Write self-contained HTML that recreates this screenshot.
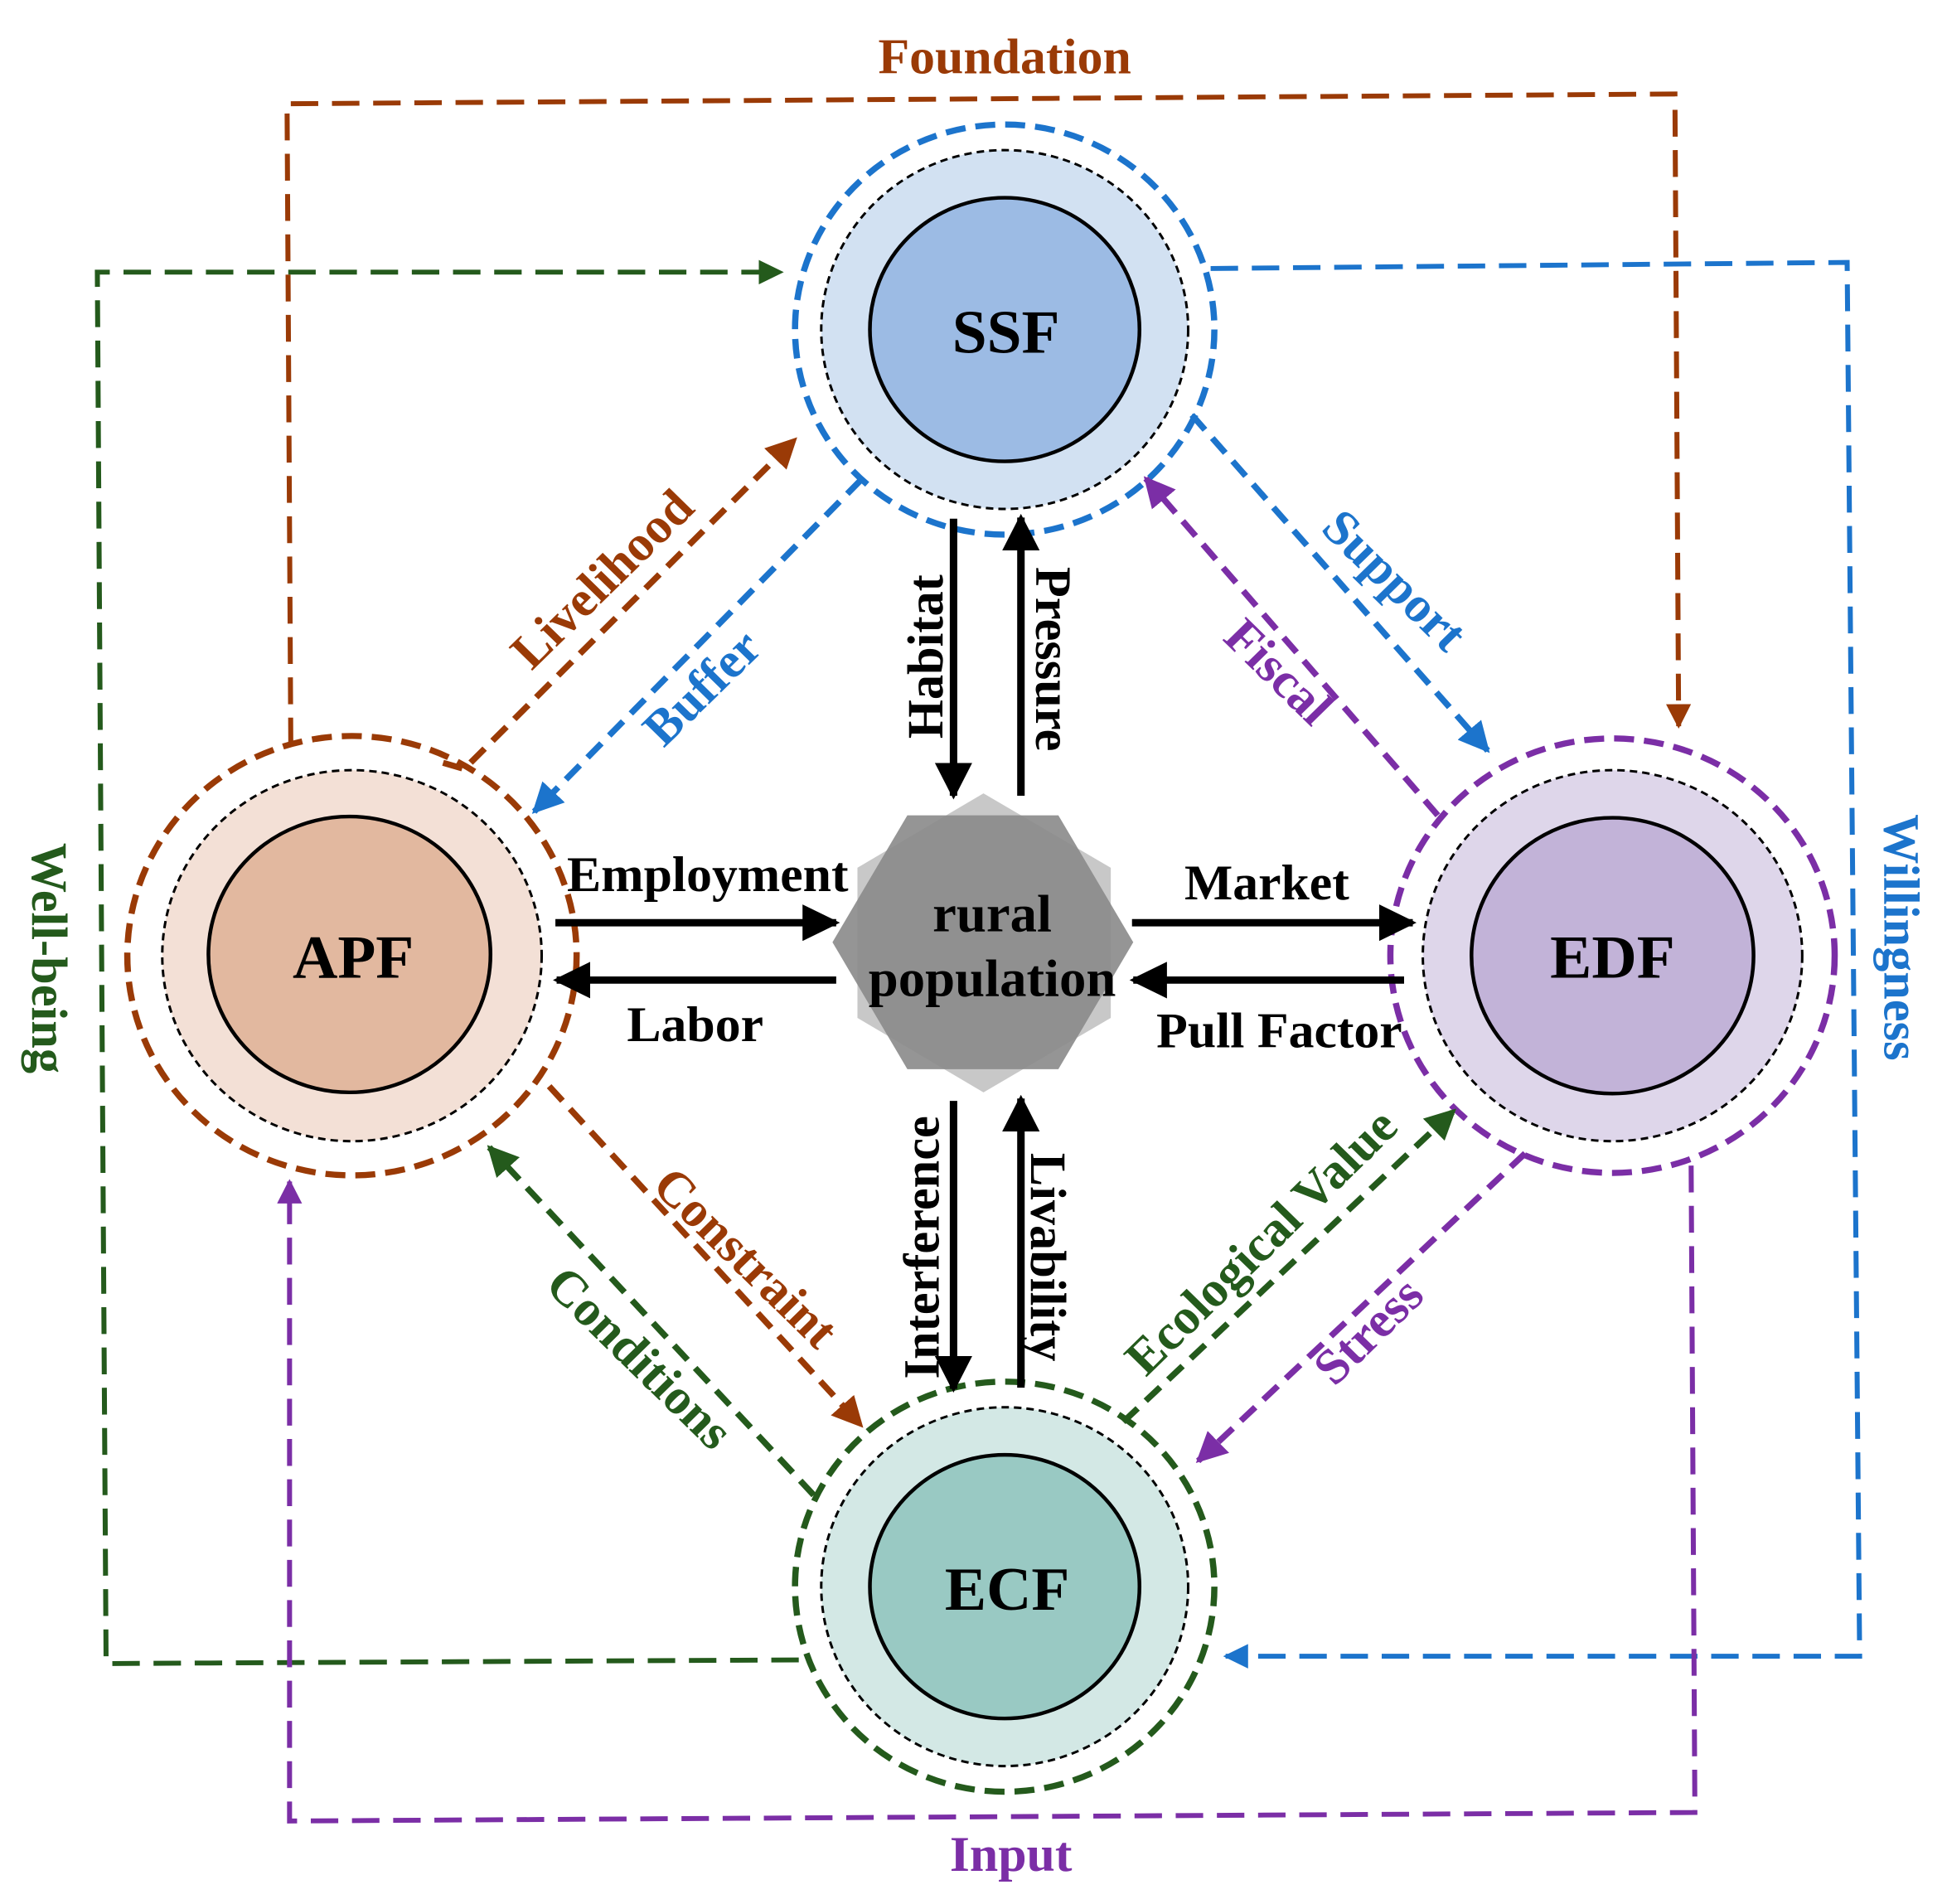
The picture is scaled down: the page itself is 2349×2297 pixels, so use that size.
<!DOCTYPE html>
<html><head><meta charset="utf-8"><style>
html,body{margin:0;padding:0;background:#fff;}
svg{display:block;}
text{font-family:"Liberation Serif",serif;font-weight:bold;}
</style></head><body>
<svg width="2349" height="2297" viewBox="0 0 1560 1560" preserveAspectRatio="none" xmlns="http://www.w3.org/2000/svg">
<defs>
<marker id="mk" viewBox="0 0 10 10" refX="9" refY="5" markerWidth="5" markerHeight="5" orient="auto" markerUnits="strokeWidth"><path d="M0,0 L10,5 L0,10 z" fill="#000"/></marker>
<marker id="mbr" viewBox="0 0 10 10" refX="9" refY="5" markerWidth="5" markerHeight="5" orient="auto" markerUnits="strokeWidth"><path d="M0,0 L10,5 L0,10 z" fill="#9a3a06"/></marker>
<marker id="mbl" viewBox="0 0 10 10" refX="9" refY="5" markerWidth="5" markerHeight="5" orient="auto" markerUnits="strokeWidth"><path d="M0,0 L10,5 L0,10 z" fill="#1c74cc"/></marker>
<marker id="mgr" viewBox="0 0 10 10" refX="9" refY="5" markerWidth="5" markerHeight="5" orient="auto" markerUnits="strokeWidth"><path d="M0,0 L10,5 L0,10 z" fill="#245a1c"/></marker>
<marker id="mpu" viewBox="0 0 10 10" refX="9" refY="5" markerWidth="5" markerHeight="5" orient="auto" markerUnits="strokeWidth"><path d="M0,0 L10,5 L0,10 z" fill="#7b2ea6"/></marker>
</defs>

<g fill="none" stroke-width="4" stroke-dasharray="22 11">
<polyline points="233,610 230,85 1342,77 1345,595" stroke="#9a3a06" marker-end="url(#mbr)"/>
<polyline points="640,1360 85,1363 78,223 626,223" stroke="#245a1c" marker-end="url(#mgr)"/>
<polyline points="970,220 1480,215 1490,1357 982,1357" stroke="#1c74cc" marker-end="url(#mbl)"/>
<polyline points="1355,955 1358,1485 232,1492 232,968" stroke="#7b2ea6" marker-end="url(#mpu)"/>
</g>

<g>
<circle cx="805" cy="270" r="168" fill="none" stroke="#1c74cc" stroke-width="5" stroke-dasharray="16 8"/>
<circle cx="805" cy="270" r="147" fill="#d2e1f2" stroke="#000" stroke-width="2" stroke-dasharray="6 4"/>
<circle cx="805" cy="270" r="108" fill="#9cbbe4" stroke="#000" stroke-width="3"/>
<text x="806" y="289" font-size="50" text-anchor="middle">SSF</text>

<circle cx="282" cy="783" r="180" fill="none" stroke="#9a3a06" stroke-width="5" stroke-dasharray="16 8"/>
<circle cx="282" cy="783" r="152" fill="#f3e0d6" stroke="#000" stroke-width="2" stroke-dasharray="6 4"/>
<circle cx="280" cy="782" r="113" fill="#e2b89f" stroke="#000" stroke-width="3"/>
<text x="283" y="801" font-size="50" text-anchor="middle">APF</text>

<circle cx="1292" cy="783" r="178" fill="none" stroke="#7b2ea6" stroke-width="5" stroke-dasharray="16 8"/>
<circle cx="1292" cy="783" r="152" fill="#ded6ea" stroke="#000" stroke-width="2" stroke-dasharray="6 4"/>
<circle cx="1292" cy="783" r="113" fill="#c2b3d8" stroke="#000" stroke-width="3"/>
<text x="1292" y="801" font-size="50" text-anchor="middle">EDF</text>

<circle cx="805" cy="1300" r="168" fill="none" stroke="#245a1c" stroke-width="5" stroke-dasharray="16 8"/>
<circle cx="805" cy="1300" r="147" fill="#d3e8e5" stroke="#000" stroke-width="2" stroke-dasharray="6 4"/>
<circle cx="805" cy="1300" r="108" fill="#99c9c3" stroke="#000" stroke-width="3"/>
<text x="807" y="1319" font-size="50" text-anchor="middle">ECF</text>
</g>

<polygon points="788,650 890,711 890,834 788,895 687,834 687,711" fill="#c8c8c8"/>
<polygon points="667,772 727,668 848,668 908,772 848,876 727,876" fill="#8a8a8a" fill-opacity="0.9"/>
<text x="795" y="763" font-size="43" text-anchor="middle">rural</text>
<text x="795" y="816" font-size="43" text-anchor="middle">population</text>

<g stroke="#000" stroke-width="6" marker-end="url(#mk)">
<line x1="764" y1="425" x2="764" y2="652"/>
<line x1="818" y1="652" x2="818" y2="424"/>
<line x1="445" y1="756" x2="670" y2="756"/>
<line x1="670" y1="803" x2="446" y2="803"/>
<line x1="907" y1="756" x2="1132" y2="756"/>
<line x1="1125" y1="803" x2="908" y2="803"/>
<line x1="764" y1="902" x2="764" y2="1138"/>
<line x1="818" y1="1137" x2="818" y2="900"/>
</g>

<g fill="none" stroke-width="5" stroke-dasharray="16 9">
<polyline points="355,625 372,630 637,360" stroke="#9a3a06" marker-end="url(#mbr)"/>
<line x1="690" y1="393" x2="428" y2="665" stroke="#1c74cc" marker-end="url(#mbl)"/>
<line x1="955" y1="340" x2="1192" y2="615" stroke="#1c74cc" marker-end="url(#mbl)"/>
<line x1="1152" y1="668" x2="918" y2="392" stroke="#7b2ea6" marker-end="url(#mpu)"/>
<line x1="440" y1="890" x2="690" y2="1168" stroke="#9a3a06" marker-end="url(#mbr)"/>
<line x1="652" y1="1225" x2="392" y2="940" stroke="#245a1c" marker-end="url(#mgr)"/>
<line x1="900" y1="1165" x2="1165" y2="910" stroke="#245a1c" marker-end="url(#mgr)"/>
<line x1="1222" y1="945" x2="960" y2="1197" stroke="#7b2ea6" marker-end="url(#mpu)"/>
</g>

<g font-size="41">
<text x="805" y="60" fill="#9a3a06" text-anchor="middle">Foundation</text>
<text x="810" y="1533" fill="#7b2ea6" text-anchor="middle">Input</text>
<text transform="translate(26,785) rotate(90)" fill="#245a1c" text-anchor="middle">Well-being</text>
<text transform="translate(1510,768) rotate(90)" fill="#1c74cc" text-anchor="middle">Willingness</text>
<text x="567" y="730" text-anchor="middle">Employment</text>
<text x="557" y="853" text-anchor="middle">Labor</text>
<text x="1015" y="737" text-anchor="middle">Market</text>
<text x="1025" y="858" text-anchor="middle">Pull Factor</text>
<text transform="translate(755,538) rotate(-90)" text-anchor="middle">Habitat</text>
<text transform="translate(830,540) rotate(90)" text-anchor="middle">Pressure</text>
<text transform="translate(752,1022) rotate(-90)" text-anchor="middle">Interference</text>
<text transform="translate(826,1030) rotate(90)" text-anchor="middle">Livability</text>
<text transform="translate(492,484) rotate(-45)" fill="#9a3a06" text-anchor="middle">Livelihood</text>
<text transform="translate(572,573) rotate(-45)" fill="#1c74cc" text-anchor="middle">Buffer</text>
<text transform="translate(1108,485) rotate(45)" fill="#1c74cc" text-anchor="middle">Support</text>
<text transform="translate(1015,560) rotate(45)" fill="#7b2ea6" text-anchor="middle">Fiscal</text>
<text transform="translate(588,1040) rotate(45)" fill="#9a3a06" text-anchor="middle">Constraint</text>
<text transform="translate(503,1122) rotate(45)" fill="#245a1c" text-anchor="middle">Conditions</text>
<text transform="translate(1020,1027) rotate(-45)" fill="#245a1c" text-anchor="middle">Ecological Value</text>
<text transform="translate(1106,1100) rotate(-45)" fill="#7b2ea6" text-anchor="middle">Stress</text>
</g>
</svg>
</body></html>
